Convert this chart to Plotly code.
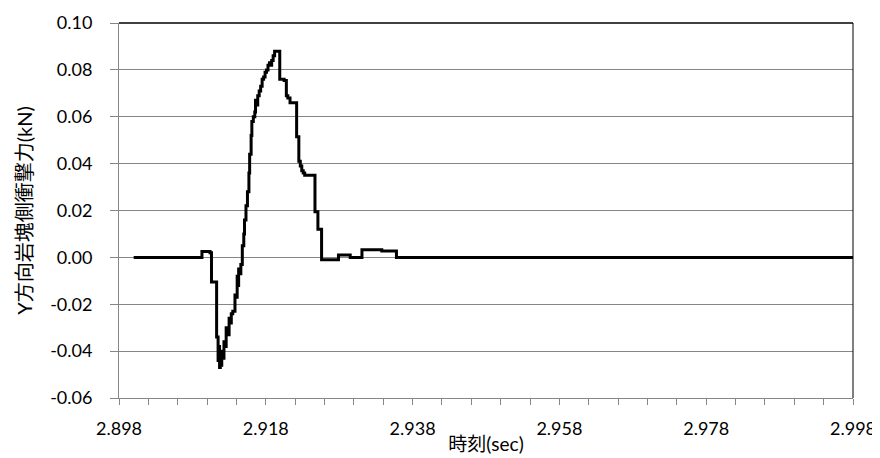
import plotly.graph_objects as go

# time (sec) and Y-direction impact force on rock block (kN), stepped signal
time_s = [2.9000, 2.9093, 2.9104, 2.9106, 2.9113, 2.9115, 2.9116, 2.9117, 2.9118, 2.9119,
          2.9120, 2.9121, 2.9123, 2.9125, 2.9126, 2.9128, 2.9130, 2.9131, 2.9133, 2.9135,
          2.9138, 2.9140, 2.9141, 2.9142, 2.9143, 2.9145, 2.9146, 2.9148, 2.9150, 2.9151,
          2.9153, 2.9155, 2.9157, 2.9158, 2.9160, 2.9161, 2.9163, 2.9165, 2.9166, 2.9168,
          2.9169, 2.9171, 2.9173, 2.9175, 2.9177, 2.9179, 2.9181, 2.9183, 2.9185, 2.9187,
          2.9188, 2.9190, 2.9192, 2.9199, 2.9205, 2.9208, 2.9210, 2.9213, 2.9222, 2.9225,
          2.9227, 2.9229, 2.9231, 2.9233, 2.9247, 2.9251, 2.9256, 2.9279, 2.9295, 2.9311,
          2.9338, 2.9358, 2.9980]
force_kN = [0.0000, 0.0025, 0.0020, -0.0105, -0.0340, -0.0440, -0.0380, -0.0470, -0.0410, -0.0460,
            -0.0400, -0.0430, -0.0360, -0.0380, -0.0300, -0.0330, -0.0260, -0.0280, -0.0240, -0.0230,
            -0.0160, -0.0170, -0.0080, -0.0120, -0.0050, -0.0070, -0.0030, 0.0050, 0.0100, 0.0160,
            0.0220, 0.0280, 0.0360, 0.0440, 0.0520, 0.0580, 0.0600, 0.0620, 0.0670, 0.0650,
            0.0690, 0.0710, 0.0730, 0.0760, 0.0770, 0.0790, 0.0800, 0.0820, 0.0830, 0.0820,
            0.0840, 0.0860, 0.0880, 0.0760, 0.0755, 0.0690, 0.0680, 0.0660, 0.0515, 0.0410,
            0.0390, 0.0370, 0.0360, 0.0350, 0.0195, 0.0120, -0.0010, 0.0010, 0.0000, 0.0033,
            0.0027, 0.0000, 0.0000]

x_tickvals = [2.898, 2.918, 2.938, 2.958, 2.978, 2.998]
x_ticktext = ["2.898", "2.918", "2.938", "2.958", "2.978", "2.998"]
y_tickvals = [-0.06, -0.04, -0.02, 0.00, 0.02, 0.04, 0.06, 0.08, 0.10]
y_ticktext = ["-0.06", "-0.04", "-0.02", "0.00", "0.02", "0.04", "0.06", "0.08", "0.10"]

FONT = "Lato, 'Noto Sans CJK JP', sans-serif"
GRAY = "#868686"

fig = go.Figure()
fig.add_trace(go.Scatter(x=time_s, y=force_kN, mode="lines", line_shape="hv",
                         line=dict(color="black", width=3), showlegend=False))

fig.update_layout(
    width=872, height=450,
    margin=dict(l=111, r=27, t=15, b=60, autoexpand=False),
    paper_bgcolor="white", plot_bgcolor="white",
    font=dict(family=FONT, size=18, color="black"),
    xaxis=dict(range=[2.898, 2.998], tickvals=x_tickvals, ticktext=x_ticktext, automargin=False,
               showgrid=False, zeroline=False, showline=True, linecolor=GRAY, linewidth=1,
               ticks="outside", ticklen=6, tickcolor=GRAY, ticklabelstandoff=8,
               minor=dict(dtick=0.004, tick0=2.898, ticks="outside", ticklen=6, tickcolor=GRAY, showgrid=False),
               title=dict(text="時刻(sec)", standoff=0, font=dict(size=19)),
               tickfont=dict(size=18)),
    yaxis=dict(range=[-0.06, 0.10], tickvals=y_tickvals, ticktext=y_ticktext, automargin=False,
               showgrid=True, gridcolor=GRAY, gridwidth=1, zeroline=False,
               showline=True, linecolor=GRAY, linewidth=1,
               ticks="outside", ticklen=8, tickcolor=GRAY, ticklabelstandoff=14,
               title=dict(text="Y方向岩塊側衝撃力(kN)", standoff=12, font=dict(size=20)),
               tickfont=dict(size=18)),
)
fig.add_shape(type="line", xref="x domain", yref="y domain", x0=0, x1=1, y0=1, y1=1,
              line=dict(color="black", width=1.5))
fig.add_shape(type="line", xref="x domain", yref="y domain", x0=1, x1=1, y0=0, y1=1,
              line=dict(color="black", width=1))

fig.write_html("out.html")
